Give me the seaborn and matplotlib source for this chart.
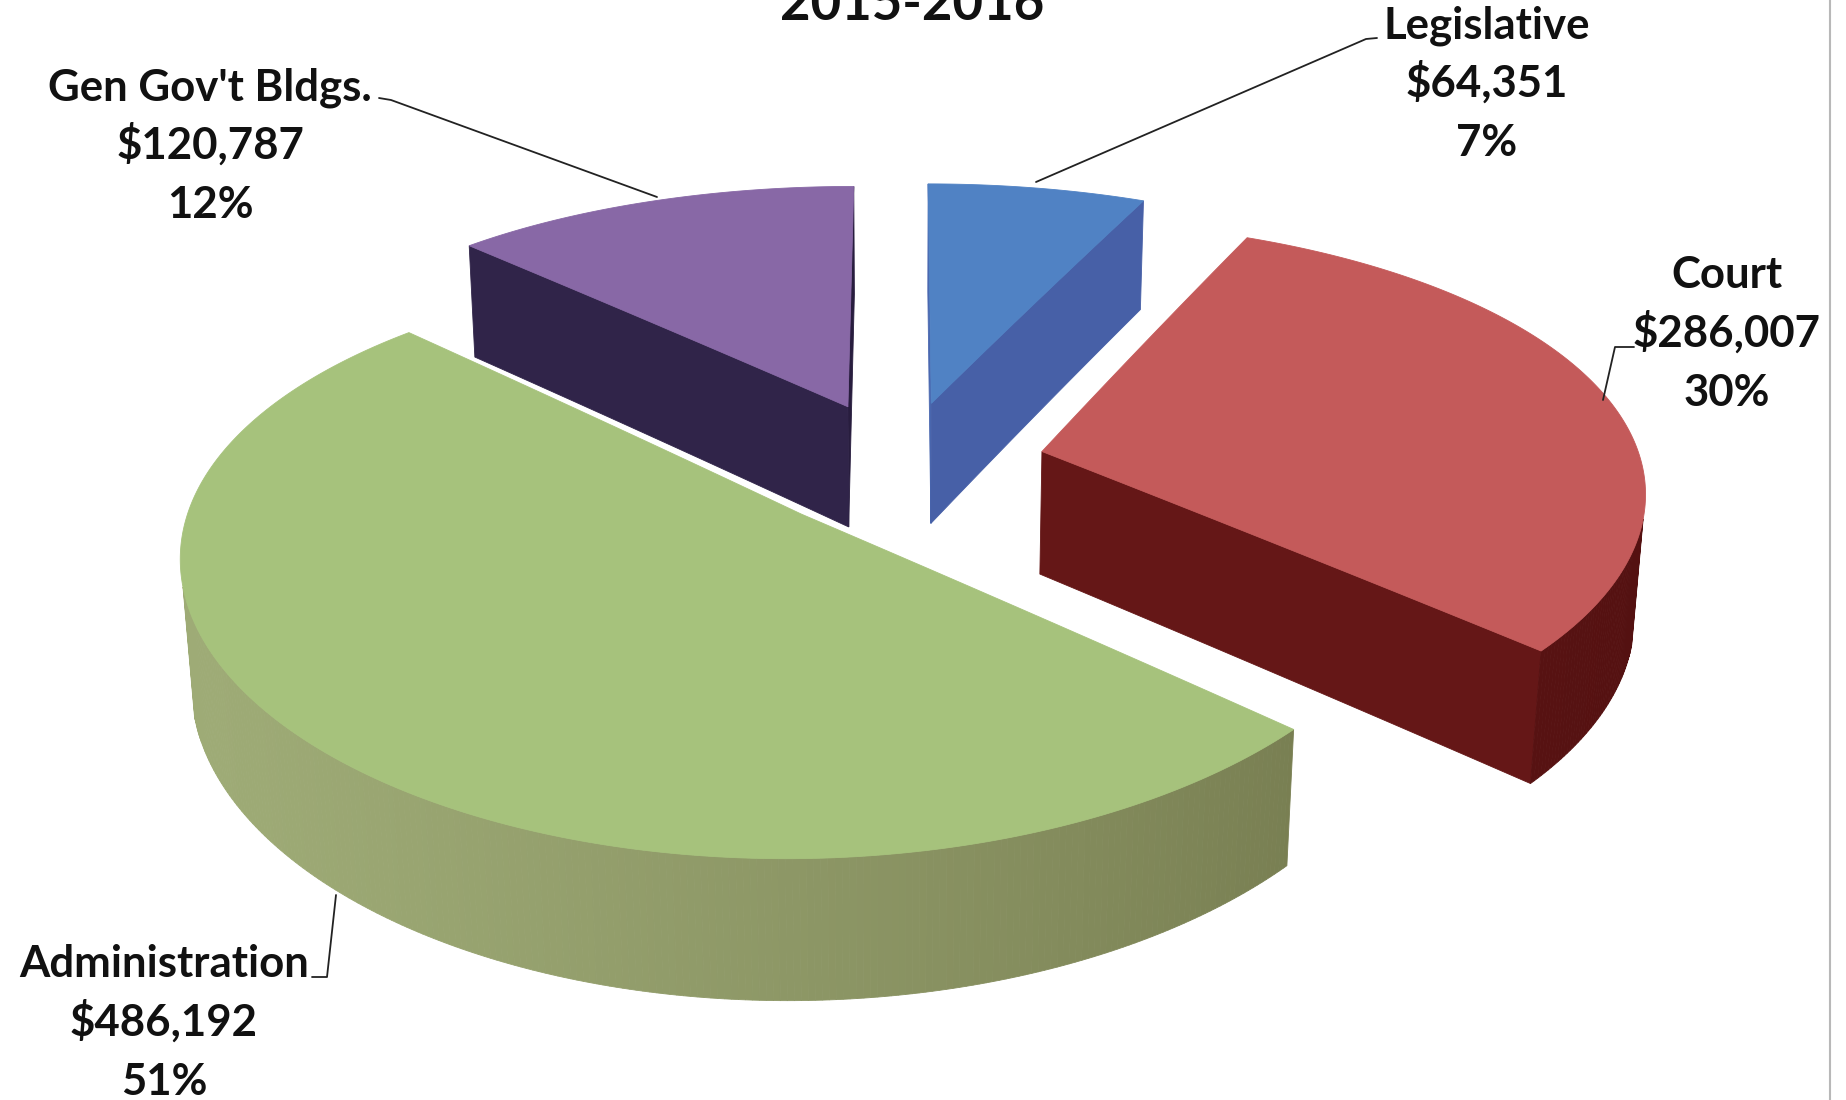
import numpy as np
import matplotlib
matplotlib.use("Agg")
import matplotlib.pyplot as plt
import seaborn as sns

# Budget by department, 2015-2016
categories = ["Legislative", "Court", "Administration", "Gen Gov't Bldgs."]
amounts = [64351, 286007, 486192, 120787]
pct_labels = ["7%", "30%", "51%", "12%"]
title_text = "2015-2016"

top_colors = ["#5082c4", "#c45a5a", "#a6c27c", "#8868a6"]
side_light = ["#4a68b0", "#661818", "#9eab76", "#30244a"]
side_dark = ["#465fa6", "#521010", "#6c7046", "#281d3e"]

sns.set_theme(style="white")
plt.rcParams["font.family"] = ["Lato", "DejaVu Sans"]

W, H = 1846, 1100
fig = plt.figure(figsize=(W / 100, H / 100), dpi=100)
ax = fig.add_axes([0, 0, 1, 1])
ax.set_xlim(0, W)
ax.set_ylim(H, 0)
ax.axis("off")

# camera for the tilted, perspective pie
PHI = np.radians(27.0)
SP, CP = np.sin(PHI), np.cos(PHI)
DIST = 5.6
RADIUS_PX = 600
SCALE = RADIUS_PX * DIST
H_PERSP = 0.8          # horizontal perspective strength
CX, CY = 902, 465
THICK = 0.235
EXPLODE = 0.24
CAM = np.array([0.0, DIST * SP, DIST * CP])


def project(p):
    x, y, z = p
    vy = y - DIST * SP
    vz = z - DIST * CP
    depth = -(vy * SP + vz * CP)
    w = vy * CP - vz * SP
    sx = CX + RADIUS_PX * x * (DIST / depth) ** H_PERSP
    return sx, CY - SCALE * w / depth, depth


def rim(t):
    return np.array([np.sin(t), 0.0, -np.cos(t)])


fr = np.array(amounts, dtype=float) / np.sum(amounts)
edges = np.concatenate([[0], np.cumsum(fr)]) * 2 * np.pi
light = np.array([-1.0, 0.0, 0.35])
light /= np.linalg.norm(light)


def mix(c1, c2, k):
    a = np.array(matplotlib.colors.to_rgb(c1))
    b = np.array(matplotlib.colors.to_rgb(c2))
    return tuple(a * (1 - k) + b * k)


def seg(p, q, n=12):
    return [p + (q - p) * u for u in np.linspace(0, 1, n)]


slices = []
for i in range(len(amounts)):
    t1, t2 = edges[i], edges[i + 1]
    mid = 0.5 * (t1 + t2)
    off = EXPLODE * rim(mid)
    ts = np.linspace(t1, t2, max(8, int((t2 - t1) / 0.01)))
    down = np.array([0.0, -THICK, 0.0])
    faces = []
    # outer wall strips
    for a, b in zip(ts[:-1], ts[1:]):
        pa, pb = off + rim(a), off + rim(b)
        quad = [pa, pb, pb + down, pa + down]
        n = rim(0.5 * (a + b))
        faces.append((quad, n))
    # radial faces
    c = off.copy()
    n1 = -np.array([np.cos(t1), 0.0, np.sin(t1)])
    n2 = np.array([np.cos(t2), 0.0, np.sin(t2)])
    e1, e2 = off + rim(t1), off + rim(t2)
    faces.append((seg(c, e1) + seg(e1 + down, c + down), n1))
    faces.append((seg(c, e2) + seg(e2 + down, c + down), n2))
    top = seg(c, e1)[:-1] + [off + rim(t) for t in ts] + seg(e2, c)[1:]
    slices.append(dict(i=i, off=off, faces=faces, top=top, mid=mid))

# far slices first
slices.sort(key=lambda s: -project(s["off"])[2])
for s in slices:
    i = s["i"]
    vis = []
    for quad, n in s["faces"]:
        cen = np.mean(quad, axis=0)
        if np.dot(CAM - cen, n) <= 0:
            continue
        k = np.clip(0.5 + 0.5 * np.dot(n, light), 0, 1)
        col = mix(side_dark[i], side_light[i], k)
        pts = [project(q) for q in quad]
        vis.append((np.mean([p[2] for p in pts]), pts, col))
    vis.sort(key=lambda v: -v[0])
    for _, pts, col in vis:
        ax.fill([p[0] for p in pts], [p[1] for p in pts], color=col,
                lw=0.6, ec=col, zorder=2)
    tp = [project(q) for q in s["top"]]
    ax.fill([p[0] for p in tp], [p[1] for p in tp], color=top_colors[i],
            lw=0.6, ec=top_colors[i], zorder=2)

# data labels with leader lines
label_pos = {
    "Legislative": (1487, 38),
    "Court": (1727, 288),
    "Administration": (164, 977),
    "Gen Gov't Bldgs.": (210, 100),
}
leaders = {
    "Legislative": [(1377, 38), (1366, 39), (1036, 182)],
    "Court": [(1634, 347), (1615, 347), (1603, 400)],
    "Administration": [(312, 977), (327, 977), (336, 895)],
    "Gen Gov't Bldgs.": [(379, 98), (391, 100), (657, 197)],
}
LINE = 59
for i, name in enumerate(categories):
    x, y = label_pos[name]
    lines = [name, f"${amounts[i]:,}", pct_labels[i]]
    for j, t in enumerate(lines):
        ax.text(x, y + j * LINE, t, ha="center", va="baseline",
                fontsize=31.5, fontweight="bold", color="#111111", zorder=5)
    pts = leaders[name]
    ax.plot([p[0] for p in pts], [p[1] for p in pts], color="#222222",
            lw=1.3, zorder=4)

ax.text(912, 20, title_text, ha="center", va="baseline", fontsize=38,
        fontweight="bold", color="#111111", zorder=5)

ax.plot([1830, 1830], [0, H], color="#b8b8b8", lw=1.5, zorder=1)

fig.savefig("out.png", dpi=100, facecolor="white")
